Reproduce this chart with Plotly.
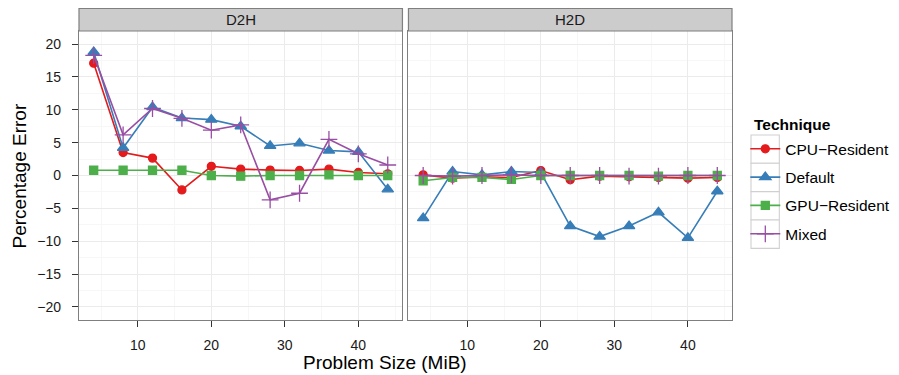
import plotly.graph_objects as go

sizes = [4, 8, 12, 16, 20, 24, 28, 32, 36, 40, 44]
techniques = ["CPU\u2212Resident", "Default", "GPU\u2212Resident", "Mixed"]
panels = ["D2H", "H2D"]

d2h_cpu = [17.1, 3.5, 2.65, -2.2, 1.4, 0.97, 0.82, 0.77, 0.97, 0.46, 0.26]
d2h_default = [18.8, 4.2, 10.4, 8.75, 8.5, 7.5, 4.5, 4.9, 3.8, 3.6, -2.1]
d2h_gpu = [0.8, 0.8, 0.8, 0.8, 0.0, -0.1, 0.0, 0.0, 0.1, 0.0, 0.0]
d2h_mixed = [18.3, 6.2, 10.2, 8.7, 6.9, 7.7, -3.7, -2.7, 5.5, 3.3, 1.6]

h2d_cpu = [0.1, -0.4, -0.2, -0.3, 0.75, -0.65, -0.1, -0.2, -0.3, -0.4, -0.3]
h2d_default = [-6.5, 0.6, 0.1, 0.6, 0.45, -7.7, -9.3, -7.7, -5.6, -9.5, -2.4]
h2d_gpu = [-0.8, -0.3, -0.3, -0.6, 0.0, 0.0, 0.0, 0.0, -0.1, 0.0, 0.0]
h2d_mixed = [0.0, -0.1, 0.0, 0.1, 0.0, 0.0, 0.0, -0.1, -0.1, 0.0, 0.0]

y_ticks = [-20, -15, -10, -5, 0, 5, 10, 15, 20]
x_ticks = [10, 20, 30, 40]

colors = ["#E41A1C", "#377EB8", "#4DAF4A", "#984EA3"]
symbols = ["circle", "triangle-up", "square", "cross-thin-open"]
msizes = [8, 10, 8, 12]

data = {
    "D2H": [d2h_cpu, d2h_default, d2h_gpu, d2h_mixed],
    "H2D": [h2d_cpu, h2d_default, h2d_gpu, h2d_mixed],
}

FONT = "Liberation Sans, Arial, Helvetica, sans-serif"

# page body has an 8px margin; work in reference-pixel coordinates
OFF = 8
W, H = 899 - OFF, 375 - OFF
panel_left, panel_right, panel_top, panel_bottom = 79, 731.7, 31, 320
L = panel_left - OFF
T = panel_top - OFF
R = W - (panel_right - OFF)
B = H - (panel_bottom - OFF)
pw = W - L - R
ph = H - T - B


def px_x(px):
    return (px - OFF - L) / pw


def px_y(py):
    return (H - B - (py - OFF)) / ph


d1 = px_x(402.3)
d2 = px_x(408.3)

legend_names = ["legend", "legend2", "legend3", "legend4"]
row_centers = [149.2, 177.5, 205.8, 234.2]

fig = go.Figure()

for p_i, panel in enumerate(panels):
    xa = "x" if p_i == 0 else "x2"
    ya = "y" if p_i == 0 else "y2"
    for t_i, tech in enumerate(techniques):
        fig.add_trace(go.Scatter(
            x=sizes, y=data[panel][t_i], mode="lines+markers",
            name=tech, legendgroup=tech, showlegend=(p_i == 0),
            legend=legend_names[t_i],
            xaxis=xa, yaxis=ya,
            line=dict(color=colors[t_i], width=1.6),
            marker=dict(symbol=symbols[t_i], size=msizes[t_i], color=colors[t_i],
                        line=dict(color=colors[t_i], width=1.3)),
        ))

axis_common = dict(
    range=[2, 46], tickvals=x_ticks, ticks="outside", ticklen=6, tickcolor="#333333",
    tickwidth=1, showgrid=True, gridcolor="#ebebeb", gridwidth=1.1,
    minor=dict(dtick=5, tick0=0, showgrid=True, gridcolor="#f7f7f7", gridwidth=1, ticks=""),
    showline=True, mirror=True, linecolor="#7f7f7f", linewidth=1.2, zeroline=False,
    tickfont=dict(family=FONT, size=14, color="#1a1a1a"), ticklabelstandoff=6,
)
yaxis_common = dict(
    range=[-22, 22], tickvals=y_ticks, ticks="outside", ticklen=6, tickcolor="#333333",
    showgrid=True, gridcolor="#ebebeb", gridwidth=1.1,
    minor=dict(dtick=5, tick0=2.5, showgrid=True, gridcolor="#f7f7f7", gridwidth=1, ticks=""),
    showline=True, mirror=True, linecolor="#7f7f7f", linewidth=1.2, zeroline=False,
    tickfont=dict(family=FONT, size=14, color="#1a1a1a"), ticklabelstandoff=8,
)
y2 = {k: v for k, v in yaxis_common.items() if k not in ("ticks", "tickfont", "ticklabelstandoff")}

legend_layout = {}
for t_i, ln in enumerate(legend_names):
    legend_layout[ln] = dict(
        x=px_x(745), y=px_y(row_centers[t_i]), xanchor="left", yanchor="middle",
        font=dict(family=FONT, size=15.5, color="black"),
        itemwidth=30, bgcolor="rgba(0,0,0,0)", borderwidth=0,
        itemclick=False, itemdoubleclick=False,
    )

fig.update_layout(
    width=W, height=H,
    margin=dict(l=L, r=R, t=T, b=B, autoexpand=False),
    paper_bgcolor="white", plot_bgcolor="white",
    xaxis=dict(domain=[0, d1], anchor="y", **axis_common),
    xaxis2=dict(domain=[d2, 1], anchor="y2", **axis_common),
    yaxis=dict(domain=[0, 1], anchor="x", **yaxis_common),
    yaxis2=dict(domain=[0, 1], anchor="x2", matches="y", showticklabels=False, ticks="", **y2),
    font=dict(family=FONT),
    **legend_layout,
)

# legend key boxes (ggplot style)
for t_i in range(4):
    yc = row_centers[t_i]
    fig.add_shape(type="rect", xref="paper", yref="paper",
                  x0=px_x(750.7), x1=px_x(779), y0=px_y(yc + 14.2), y1=px_y(yc - 14.2),
                  fillcolor="white", line=dict(color="#d0d0d0", width=1.1), layer="below")

fig.add_annotation(text="<b>Technique</b>", xref="paper", yref="paper",
                   x=px_x(752), y=px_y(124), showarrow=False, xanchor="left", yanchor="middle",
                   font=dict(family=FONT, size=15.5, color="black"))

strip_h = (31 - 8.3) / ph
for p_i, panel in enumerate(panels):
    x0, x1 = (0, d1) if p_i == 0 else (d2, 1)
    fig.add_shape(type="rect", xref="paper", yref="paper", x0=x0, x1=x1, y0=1, y1=1 + strip_h,
                  fillcolor="#cccccc", line=dict(color="#7f7f7f", width=1.2), layer="above")
    fig.add_annotation(text=panel, xref="paper", yref="paper", x=(x0 + x1) / 2, y=1 + strip_h / 2,
                       showarrow=False, font=dict(family=FONT, size=15, color="#1a1a1a"),
                       xanchor="center", yanchor="middle")

fig.add_annotation(text="Problem Size (MiB)", xref="paper", yref="paper",
                   x=px_x(384.5), y=px_y(362), showarrow=False,
                   font=dict(family=FONT, size=19, color="black"), xanchor="center", yanchor="middle")
fig.add_annotation(text="Percentage Error", xref="paper", yref="paper",
                   x=px_x(20), y=0.5, showarrow=False, textangle=-90,
                   font=dict(family=FONT, size=19, color="black"), xanchor="center", yanchor="middle")

fig.write_html("out.html")
